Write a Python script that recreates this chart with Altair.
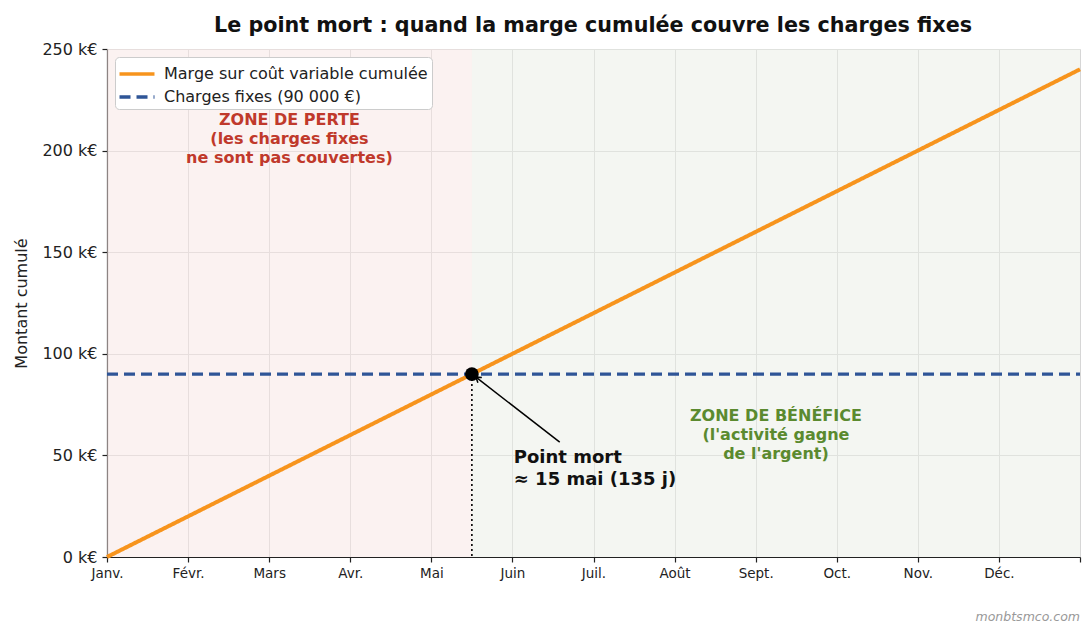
import altair as alt
import pandas as pd

# ---- data ----
months = ["Janv.", "Févr.", "Mars", "Avr.", "Mai", "Juin", "Juil.", "Août", "Sept.", "Oct.", "Nov.", "Déc."]
month_days = [0, 30, 60, 90, 120, 150, 180, 210, 240, 270, 300, 330]
year_end = 360
y_ticks = [0, 50000, 100000, 150000, 200000, 250000]

series_names = ["Marge sur coût variable cumulée", "Charges fixes (90 000 €)"]
marge_days = [0, 360]
marge_values = [0, 240000]
fixed_costs = 90000
pm_day = 135

loss_zone = (0, 135)
profit_zone = (135, 360)
loss_color = "#f8e6e3"
profit_color = "#eaeee5"

loss_text_pos = (67.5, 215000)
profit_text_pos = (247.5, 69400)
loss_text = ["ZONE DE PERTE", "(les charges fixes", "ne sont pas couvertes)"]
profit_text = ["ZONE DE BÉNÉFICE", "(l'activité gagne", "de l'argent)"]
loss_text_color = "#c0392b"
profit_text_color = "#5b8a2f"

arrow_tail = (167.5, 56500)
arrow_head = (136.5, 88500)
pm_label_pos = (150.5, 48700)
pm_label = ["Point mort", "≈ 15 mai (135 j)"]

title_text = "Le point mort : quand la marge cumulée couvre les charges fixes"
watermark = "monbtsmco.com"

FONT = "DejaVu Sans"
ORANGE = "#f7941d"
BLUE = "#2f5597"
INK = "#222222"

x_scale = alt.Scale(domain=[0, year_end], nice=False, zero=False)
y_scale = alt.Scale(domain=[0, 250000], nice=False)

label_expr = "datum.value < 360 ? [" + ",".join("'" + m + "'" for m in months) + "][datum.value / 30] : ''"

x_axis = alt.Axis(values=month_days + [year_end], labelExpr=label_expr, title=None, grid=True,
                  labelFlush=False)
y_axis = alt.Axis(values=y_ticks, labelExpr="format(datum.value / 1000, 'd') + ' k€'",
                  title="Montant cumulé", grid=True, labelFlush=False)


def X(field):
    return alt.X(field, type="quantitative", scale=x_scale, axis=x_axis)


def Y(field):
    return alt.Y(field, type="quantitative", scale=y_scale, axis=y_axis)


def zone_rect(z, color):
    df = pd.DataFrame({"day": [z[0]], "day2": [z[1]]})
    return alt.Chart(df).mark_rect(opacity=0.5, color=color).encode(
        x=X("day"), x2="day2", y=alt.value(0), y2=alt.value(508))


bg_loss = zone_rect(loss_zone, loss_color)
bg_profit = zone_rect(profit_zone, profit_color)

color_enc = alt.Color("series:N", scale=alt.Scale(domain=series_names, range=[ORANGE, BLUE]),
                      sort=series_names, legend=alt.Legend(title=None))
dash_enc = alt.StrokeDash("series:N", scale=alt.Scale(domain=series_names, range=[[1, 0], [11, 6]]),
                          sort=series_names, legend=alt.Legend(title=None))

marge_df = pd.DataFrame({"series": series_names[0], "day": marge_days, "value": marge_values})
fixed_df = pd.DataFrame({"series": series_names[1], "day": marge_days,
                         "value": [fixed_costs] * len(marge_days)})

line_marge = alt.Chart(marge_df).mark_line(strokeWidth=4).encode(
    x=X("day"), y=Y("value"), color=color_enc, strokeDash=dash_enc)
line_fixed = alt.Chart(fixed_df).mark_line(strokeWidth=3.2).encode(
    x=X("day"), y=Y("value"), color=color_enc, strokeDash=dash_enc)

pm_df = pd.DataFrame({"day": [pm_day], "value": [fixed_costs], "value0": [0]})
vline = alt.Chart(pm_df).mark_rule(color="black", strokeDash=[2, 3], strokeWidth=1.6).encode(
    x=X("day"), y=Y("value"), y2="value0")
point = alt.Chart(pm_df).mark_circle(color="black", size=190, opacity=1).encode(
    x=X("day"), y=Y("value"))

arrow_df = pd.DataFrame({"day": [arrow_tail[0]], "value": [arrow_tail[1]],
                         "day2": [arrow_head[0]], "value2": [arrow_head[1]]})
arrow = alt.Chart(arrow_df).mark_rule(color="black", strokeWidth=1.5).encode(
    x=X("day"), y=Y("value"), x2="day2", y2="value2")
head_df = pd.DataFrame({"day": [arrow_head[0]], "value": [arrow_head[1]]})
head = alt.Chart(head_df).mark_point(
    shape="M-0.6,0.9L0,0L0.6,0.9", filled=False, color="black", strokeWidth=1.5,
    size=120, angle=307, opacity=1).encode(x=X("day"), y=Y("value"))

pm_text_df = pd.DataFrame({"day": [pm_label_pos[0]], "value": [pm_label_pos[1]], "t": [pm_label]})
pm_text = alt.Chart(pm_text_df).mark_text(
    align="left", baseline="middle", font=FONT, fontSize=18, fontWeight="bold",
    color="#111", lineHeight=22).encode(x=X("day"), y=Y("value"), text="t")


def zone_label(pos, lines_, color):
    df = pd.DataFrame({"day": [pos[0]], "value": [pos[1]], "t": [lines_]})
    return alt.Chart(df).mark_text(
        align="center", baseline="middle", font=FONT, fontSize=16, fontWeight="bold",
        lineHeight=19, color=color).encode(x=X("day"), y=Y("value"), text="t")


loss_label = zone_label(loss_text_pos, loss_text, loss_text_color)
profit_label = zone_label(profit_text_pos, profit_text, profit_text_color)

wm = alt.Chart(pd.DataFrame({"t": [watermark]})).mark_text(
    align="right", baseline="middle", font=FONT, fontSize=12.5, fontStyle="italic",
    color="#999").encode(x=alt.value(973), y=alt.value(568), text="t")

ttl = alt.Chart(pd.DataFrame({"t": [title_text]})).mark_text(
    align="center", baseline="alphabetic", font=FONT, fontSize=20.7, fontWeight="bold",
    color="#111").encode(x=alt.value(486), y=alt.value(-17), text="t")

chart = alt.layer(bg_loss, bg_profit, vline, line_marge, line_fixed, point, arrow, head,
                  pm_text, loss_label, profit_label, wm, ttl).properties(
    width=973, height=508,
    padding={"left": 107, "top": 49, "right": 12, "bottom": 80},
    autosize=alt.AutoSizeParams(type="none"),
).configure_view(stroke=None).configure_legend(
    orient="top-left", offset=8, padding=4, fillColor="white", strokeColor="#cccccc",
    cornerRadius=4, labelFont=FONT, labelFontSize=16, labelColor=INK,
    symbolType="M-1.59,0H1.59", symbolSize=484, symbolStrokeWidth=3.6, rowPadding=2,
    symbolOffset=5, labelOffset=14, labelLimit=500,
).configure_axis(
    domainColor=INK, domainWidth=1.2, tickColor=INK, tickSize=5, tickWidth=1.2,
    labelColor=INK, labelFont=FONT, gridColor="#d6d6d6", gridWidth=1,
    titleFont=FONT, titleColor=INK, titleFontWeight="normal",
).configure_axisX(labelFontSize=13.5, labelPadding=4).configure_axisY(
    labelFontSize=16, labelPadding=5, titleFontSize=16, titlePadding=12)

chart.save("out.html", embed_options={"renderer": "svg", "actions": False})
